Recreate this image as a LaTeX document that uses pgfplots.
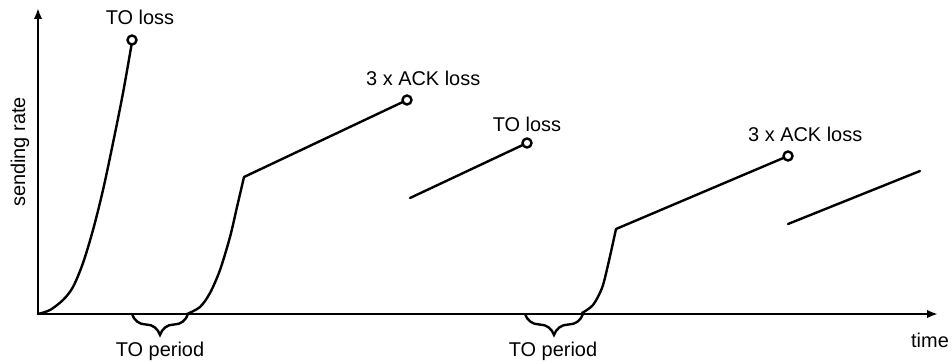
\documentclass[border=0pt]{standalone}
\usepackage{pgfplots}
\pgfplotsset{compat=1.18}
\usepackage{fontspec}
\setmainfont{Liberation Sans}
\usetikzlibrary{arrows.meta,decorations.pathreplacing}

\begin{document}
\begin{tikzpicture}[lbl/.style={font=\fontsize{20}{24}\selectfont, inner sep=0pt, text=black}]
\begin{axis}[
  width=952bp, height=364bp, scale only axis,
  xmin=0, xmax=952, ymin=0, ymax=364, y dir=reverse,
  hide axis, clip=false,
  curve/.style={black, line width=2.4bp, mark=none, line join=round, line cap=round},
]
% bounding box
\path[draw=none] (axis cs:0,0) rectangle (axis cs:952,364);

% axes
\draw[line width=2.4bp, -{Latex[length=11bp,width=8.5bp]}] (axis cs:37,314) -- (axis cs:938,314);
\draw[line width=2.4bp, -{Latex[length=11bp,width=8.5bp]}] (axis cs:38,315) -- (axis cs:38,8);

% slow start 1
\addplot[curve, smooth] coordinates {(38,314) (50,310) (63,300) (73,287) (83,263) (93,230) (103,190) (113,143) (123,93) (132,42)};
% slow start 2 + congestion avoidance
\addplot[curve, smooth] coordinates {(187,314) (200,307) (210,293) (220,270) (230,237) (237,207) (244,177)};
\addplot[curve, sharp plot] coordinates {(244,177) (407,100)};
% after 3 x ACK loss
\addplot[curve, sharp plot] coordinates {(410,198) (527,143)};
% slow start 3 + congestion avoidance
\addplot[curve, smooth] coordinates {(582,313) (593,305) (602,288) (608,265) (616,229)};
\addplot[curve, sharp plot] coordinates {(616,229) (788,156)};
% after 3 x ACK loss
\addplot[curve, sharp plot] coordinates {(788,224) (920,171)};

% loss events
\addplot[only marks, mark=*, mark size=4.5bp, mark options={draw=black, fill=white, line width=2.4bp}] coordinates {(132,40) (407,100) (527,143) (788,156)};

% braces
\draw[line width=2.4bp, decorate, decoration={brace, amplitude=21bp, mirror}] (axis cs:132,314) -- (axis cs:188,314);
\draw[line width=2.4bp, decorate, decoration={brace, amplitude=21bp, mirror}] (axis cs:525,314) -- (axis cs:583,314);

% labels
\node[lbl, anchor=base] at (axis cs:140,25) {TO loss};
\node[lbl, anchor=base] at (axis cs:527,131) {TO loss};
\node[lbl, anchor=base west] at (axis cs:366,85) {3 x ACK loss};
\node[lbl, anchor=base west] at (axis cs:748,141) {3 x ACK loss};
\node[lbl, anchor=base] at (axis cs:160,356) {TO period};
\node[lbl, anchor=base] at (axis cs:553,356) {TO period};
\node[lbl, anchor=base] at (axis cs:930,347) {time};
\node[lbl, anchor=base, rotate=90] at (axis cs:25,152) {sending rate};
\end{axis}
\end{tikzpicture}
\end{document}
